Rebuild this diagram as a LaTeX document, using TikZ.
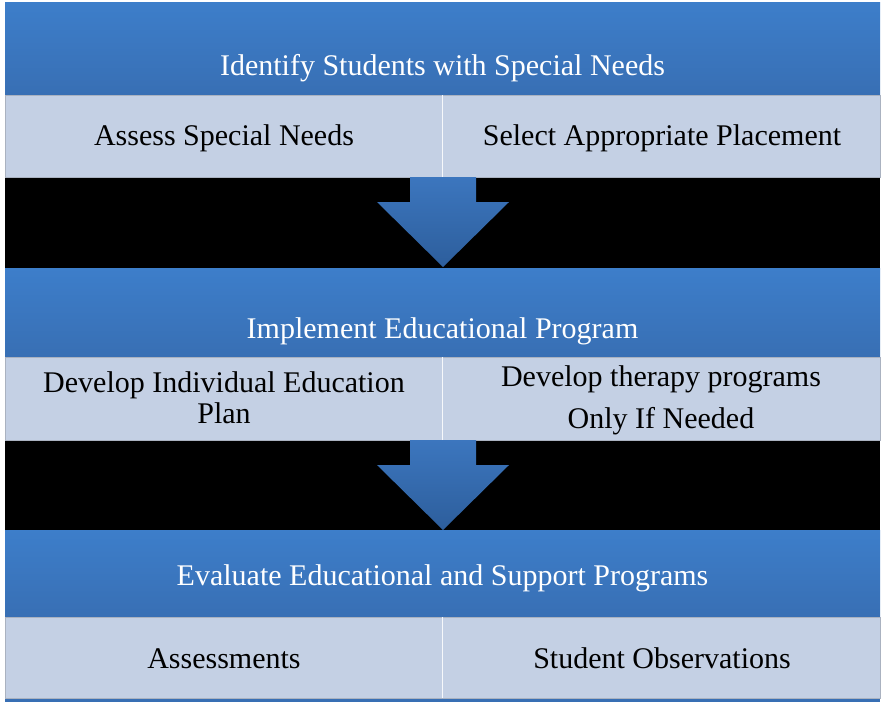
\documentclass[tikz,border=0pt]{standalone}
\usepackage{fontspec}
\setmainfont{Liberation Serif}
\usetikzlibrary{positioning}
\definecolor{Headtop}{RGB}{61,126,202}
\definecolor{Headbottom}{RGB}{56,111,180}
\definecolor{Cellblue}{RGB}{196,208,228}
\definecolor{Arrowtop}{RGB}{60,118,190}
\definecolor{Arrowbottom}{RGB}{45,94,156}
\definecolor{Edgegray}{RGB}{170,178,192}

\begin{document}
\begin{tikzpicture}[x=1pt, y=-1pt,
    headtext/.style={anchor=base, text=white, font=\fontsize{30}{36}\selectfont},
    celltext/.style={anchor=base, text=black, align=center, font=\fontsize{30}{36}\selectfont},
    headband/.style={top color=Headtop, bottom color=Headbottom},
    cellband/.style={fill=Cellblue, draw=Edgegray, line width=0.8pt}]
            \useasboundingbox (0,0) rectangle (882,702);
            \fill[white] (0,0) rectangle (882,702);

            % black gaps between the stages
            \foreach \top/\bottom in {177/268, 440/530}{
                \fill[black] (5,\top) rectangle (880,\bottom);
            }

            % stage bands
            \shade[headband] (5,2) rectangle (880,95);
            \shade[headband] (5,268) rectangle (880,357);
            \shade[headband] (5,530) rectangle (880,617);
            \fill[Headbottom] (5,698) rectangle (880,702);
            \foreach \top/\bottom in {95/177, 357/440, 617/698}{
                \draw[cellband] (5,\top) rectangle (880,\bottom);
                \draw[white!85!Cellblue, line width=1pt] (442,\top) -- (442,\bottom);
            }

            % block arrows
            \foreach \top in {177, 440}{
                \shade[top color=Arrowtop, bottom color=Arrowbottom]
                    (410,\top) -- ++(66,0) -- ++(0,25) -- ++(33,0) -- ++(-66,65)
                    -- ++(-66,-65) -- ++(33,0) -- cycle;
            }

            \node[headtext] (identify) at (442.5,75) {Identify Students with Special Needs};
            \node[celltext] (assess) at (224,145) {Assess Special Needs};
            \node[celltext] (placement) at (662,145) {Select Appropriate Placement};

            \node[headtext] (implement) at (442.5,338) {Implement Educational Program};
            \node[celltext, font=\fontsize{30}{31}\selectfont] (iep) at (224,423) {Develop Individual Education\\Plan};
            \node[celltext, font=\fontsize{30}{42}\selectfont] (therapy) at (661,428) {Develop therapy programs\\Only If Needed};

            \node[headtext] (evaluate) at (442.5,585) {Evaluate Educational and Support Programs};
            \node[celltext] (assessments) at (224,668) {Assessments};
            \node[celltext] (observations) at (662,668) {Student Observations};
        \end{tikzpicture}
\end{document}
